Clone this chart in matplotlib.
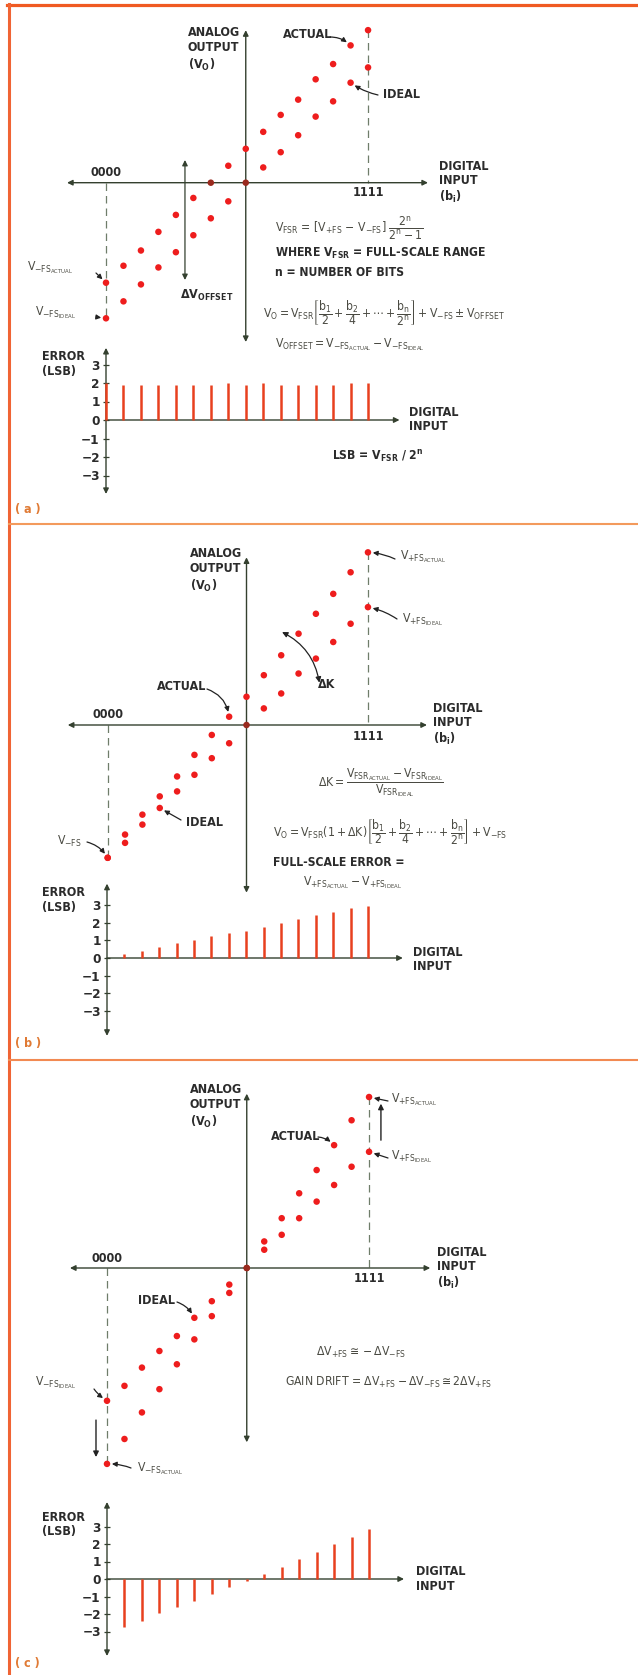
import matplotlib
matplotlib.use('Agg')
import matplotlib.pyplot as plt
import matplotlib.transforms as mtransforms
from matplotlib.lines import Line2D
from matplotlib import font_manager

W, H = 638, 1675

codes = [0, 1, 2, 3, 4, 5, 6, 7, 8, 9, 10, 11, 12, 13, 14, 15]

# (a) offset error
ideal_a = [-8.0, -7.0, -6.0, -5.0, -4.1, -3.1, -2.1, -1.1, 0.0, 0.9, 1.8, 2.8, 3.9, 4.8, 5.9, 6.8]
actual_a = [-5.9, -4.9, -4.0, -2.9, -1.9, -0.9, 0.0, 1.0, 2.0, 3.0, 4.0, 4.9, 6.1, 7.0, 8.1, 9.0]
error_a = [2.0, 1.9, 1.9, 1.9, 1.9, 1.9, 1.9, 2.0, 1.9, 2.0, 1.9, 1.9, 1.9, 1.9, 2.0, 2.0]

# (b) gain error
ideal_b = [-8.0, -7.1, -6.0, -5.0, -4.0, -3.0, -2.0, -1.1, 0.0, 1.0, 1.9, 3.1, 4.0, 5.0, 6.1, 7.1]
actual_b = [-8.0, -6.6, -5.4, -4.3, -3.1, -1.8, -0.6, 0.5, 1.7, 3.0, 4.2, 5.5, 6.7, 7.9, 9.2, 10.4]
error_b = [0.0, 0.24, 0.41, 0.64, 0.84, 1.03, 1.22, 1.41, 1.54, 1.74, 2.0, 2.2, 2.44, 2.6, 2.8, 2.96]

# (c) gain drift
ideal_c = [-8.0, -7.1, -6.0, -5.0, -4.1, -3.0, -2.0, -1.0, 0.0, 1.1, 2.0, 3.0, 4.0, 5.0, 6.1, 7.0]
actual_c = [-11.8, -10.3, -8.7, -7.3, -5.8, -4.3, -2.9, -1.5, 0.0, 1.6, 3.0, 4.5, 5.9, 7.4, 8.9, 10.3]
error_c = [0.0, -2.76, -2.4, -1.95, -1.6, -1.25, -0.87, -0.46, -0.1, 0.3, 0.7, 1.13, 1.57, 2.0, 2.38, 2.84]

err_ticks = [-3, -2, -1, 0, 1, 2, 3]

# condensed face if there is one
fl = font_manager.fontManager.ttflist
if any(f.name == 'DejaVu Sans' and f.stretch == 'condensed' for f in fl):
    plt.rcParams['font.family'] = ['DejaVu Sans']
    plt.rcParams['font.stretch'] = 'condensed'
    FS = 9.0
elif any(f.name == 'Liberation Sans Narrow' for f in fl):
    plt.rcParams['font.family'] = ['Liberation Sans Narrow', 'DejaVu Sans']
    FS = 9.5
else:
    plt.rcParams['font.family'] = ['Liberation Sans', 'DejaVu Sans']
    FS = 8.3
plt.rcParams['mathtext.default'] = 'regular'
plt.rcParams['mathtext.fontset'] = 'dejavusans'

RED = '#ee1d1d'
DARKDOT = '#9a2a1e'
BAR = '#e8401e'
AXC = '#34402f'
TXT = '#2b2b2b'
FTXT = '#4a4a42'
DASH = '#6f7d6a'
TAG = '#e07a34'

fig = plt.figure(figsize=(W / 100, H / 100), dpi=100)
fig.patch.set_facecolor('white')
PX = mtransforms.Affine2D().scale(1 / W, -1 / H).translate(0, 1) + fig.transFigure

# panel frames
fig.add_artist(Line2D([7, W], [5, 5], transform=PX, color='#f05a22', lw=2.3))
fig.add_artist(Line2D([8.5, 8.5], [4, H], transform=PX, color='#f06434', lw=2.2))
fig.add_artist(Line2D([8.5, W], [524, 524], transform=PX, color='#f39a5c', lw=1.5))
fig.add_artist(Line2D([8.5, W], [1060, 1060], transform=PX, color='#f28a52', lw=1.5))


def make_ax(x0, y0, sx, sy, top, bottom):
    ax = fig.add_axes([0, 1 - bottom / H, 1, (bottom - top) / H])
    ax.set_xlim(-x0 / sx, (W - x0) / sx)
    ax.set_ylim((y0 - bottom) / sy, (y0 - top) / sy)
    ax.patch.set_visible(False)
    for s in ax.spines.values():
        s.set_visible(False)
    ax.set_xticks([])
    ax.set_yticks([])
    return ax


def arrow(ax, start, end, style='-|>', rad=0.0, lw=1.0, color=AXC, ms=8, sa=0, sb=0, tc='data'):
    ax.annotate('', xy=end, xytext=start, textcoords=tc,
                arrowprops=dict(arrowstyle=style, color=color, lw=lw, mutation_scale=ms,
                                shrinkA=sa, shrinkB=sb,
                                connectionstyle='arc3,rad=%s' % rad))


def pointer(ax, start_px, dot, rad=0.0):
    arrow(ax, start_px, dot, style='-|>', rad=rad, lw=0.9, color='#222222', ms=7, sb=3.5, tc=PX)


def txt(s, x, y, size=None, color=TXT, ha='left', va='center', weight='bold', **kw):
    fig.text(x, y, s, transform=PX, fontsize=size or FS, color=color, ha=ha, va=va,
             fontweight=weight, **kw)


def ftxt(s, x, y, color=FTXT, weight='normal'):
    txt(s, x, y, size=FS - 0.3, color=color, weight=weight)


def transfer(ax, ideal, actual, xr, yr, full_from, full_to):
    arrow(ax, (xr[0], 0), (xr[1], 0), style='<|-|>')
    arrow(ax, (codes[8], yr[0]), (codes[8], yr[1]), style='<|-|>')
    ax.plot([codes[0], codes[0]], [0, full_from], ls=(0, (6, 4)), color=DASH, lw=0.9)
    ax.plot([codes[15], codes[15]], [full_to, 0], ls=(0, (6, 4)), color=DASH, lw=0.9)
    for series in (ideal, actual):
        cols = [DARKDOT if abs(v) < 0.05 else RED for v in series]
        ax.scatter(codes, series, s=22, c=cols, edgecolors='none', zorder=5)


def error_plot(ax, err, yr, xmax):
    arrow(ax, (codes[0], yr[0]), (codes[0], yr[1]), style='<|-|>')
    arrow(ax, (codes[0], 0), (xmax, 0), style='-|>')
    ax.vlines(codes, 0, err, color=BAR, lw=1.8, zorder=3)
    ax.spines['left'].set_position(('data', 0))
    ax.set_yticks(err_ticks)
    ax.tick_params(axis='y', direction='inout', length=5, width=0.9, color=AXC,
                   labelsize=FS + 0.7, labelcolor=TXT, pad=2.0)
    for lab in ax.get_yticklabels():
        lab.set_fontweight('bold')


def axis_labels(top_vo, left_vo, x0000, y0000, x1111, y1111, left_di, top_di):
    txt('ANALOG\nOUTPUT\n(V$_O$)', left_vo, top_vo, va='top', linespacing=1.2)
    txt('0000', x0000, y0000, ha='center')
    txt('1111', x1111, y1111, ha='center')
    txt('DIGITAL\nINPUT\n(b$_i$)', left_di, top_di, va='top', linespacing=1.15)


FRAC_SUM = r'\left[\dfrac{b_1}{2}+\dfrac{b_2}{4}+\cdots+\dfrac{b_n}{2^n}\right]'

# ---------------- (a) ----------------
ax = make_ax(106, 182.7, 17.47, 16.95, 10, 350)
transfer(ax, ideal_a, actual_a, (-2.23, 18.43), (-9.4, 9.0), ideal_a[0], actual_a[15])
arrow(ax, (4.52, -5.74), (4.52, 1.34), style='<|-|>', lw=0.9)
axis_labels(26, 188, 106, 173, 368, 193, 439, 160)
txt('ACTUAL', 283, 35)
pointer(ax, (330, 37), (codes[14], actual_a[14]), rad=-0.2)
txt('IDEAL', 383, 95)
pointer(ax, (378, 95), (codes[14], ideal_a[14]), rad=-0.1)
ftxt('V$_{-FS_{ACTUAL}}$', 27, 268)
pointer(ax, (96, 273), (codes[0], actual_a[0]))
ftxt('V$_{-FS_{IDEAL}}$', 35, 313)
pointer(ax, (96, 317), (codes[0], ideal_a[0]))
txt('ΔV$_{OFFSET}$', 180, 295)
ftxt(r'V$_{FSR}$ = [V$_{+FS}$ − V$_{-FS}$] $\dfrac{2^n}{2^n-1}$', 275, 228)
txt('WHERE V$_{FSR}$ = FULL-SCALE RANGE', 275, 253, size=FS - 0.3)
txt('n = NUMBER OF BITS', 275, 272, size=FS - 0.3)
ftxt(r'$V_O = V_{FSR}' + FRAC_SUM + r' + V_{-FS} \pm V_{OFFSET}$', 263, 313)
ftxt(r'$V_{OFFSET} = V_{-FS_{ACTUAL}} - V_{-FS_{IDEAL}}$', 275, 345)

ax = make_ax(106, 420, 17.47, 18.5, 340, 505)
error_plot(ax, error_a, (-4.0, 3.9), 16.8)
txt('ERROR\n(LSB)', 42, 350, va='top', linespacing=1.15)
txt('DIGITAL\nINPUT', 409, 406, va='top', linespacing=1.15)
txt('LSB = V$_{FSR}$ / 2$^n$', 332, 457, size=FS - 0.3)
txt('( a )', 15, 509, color=TAG, size=FS)

# ---------------- (b) ----------------
ax = make_ax(107.7, 725, 17.35, 16.6, 540, 900)
transfer(ax, ideal_b, actual_b, (-2.3, 18.4), (-10.1, 10.1), actual_b[0], actual_b[15])
axis_labels(547, 190, 108, 715, 368, 737, 433, 702)
ftxt('V$_{+FS_{ACTUAL}}$', 400, 557)
pointer(ax, (395, 559), (codes[15], actual_b[15]), rad=0.1)
ftxt('V$_{+FS_{IDEAL}}$', 402, 620)
pointer(ax, (397, 619), (codes[15], ideal_b[15]), rad=0.1)
arrow(ax, (10.05, 5.6), (12.2, 2.55), style='<|-|>', rad=-0.25, lw=0.9, color='#222222')
txt('ΔK', 318, 685)
txt('ACTUAL', 157, 687)
pointer(ax, (207, 689), (codes[7], actual_b[7]), rad=-0.3)
txt('IDEAL', 186, 822)
pointer(ax, (181, 820), (codes[3], ideal_b[3]))
ftxt('V$_{-FS}$', 57, 841)
pointer(ax, (87, 842), (codes[0], actual_b[0]), rad=-0.2)
ftxt(r'$\Delta K = \dfrac{V_{FSR_{ACTUAL}} - V_{FSR_{IDEAL}}}{V_{FSR_{IDEAL}}}$', 318, 783)
ftxt(r'$V_O = V_{FSR}(1+\Delta K)' + FRAC_SUM + r'+V_{-FS}$', 273, 832)
txt('FULL-SCALE ERROR =', 273, 863, size=FS - 0.3)
ftxt(r'$V_{+FS_{ACTUAL}} - V_{+FS_{IDEAL}}$', 303, 883)

ax = make_ax(107, 958, 17.4, 17.7, 875, 1045)
error_plot(ax, error_b, (-4.4, 4.2), 17.0)
txt('ERROR\n(LSB)', 42, 886, va='top', linespacing=1.15)
txt('DIGITAL\nINPUT', 413, 946, va='top', linespacing=1.15)
txt('( b )', 15, 1043, color=TAG, size=FS)

# ---------------- (c) ----------------
ax = make_ax(107, 1268, 17.47, 16.6, 1075, 1470)
transfer(ax, ideal_c, actual_c, (-2.12, 18.5), (-10.5, 10.5), actual_c[0], actual_c[15])
axis_labels(1083, 190, 107, 1258, 369, 1278, 437, 1246)
ftxt('V$_{+FS_{ACTUAL}}$', 391, 1100)
pointer(ax, (388, 1101), (codes[15], actual_c[15]))
ftxt('V$_{+FS_{IDEAL}}$', 391, 1157)
pointer(ax, (388, 1158), (codes[15], ideal_c[15]))
arrow(ax, (15.68, 7.7), (15.68, 9.9), style='-|>', lw=1.0, color='#222222')
txt('ACTUAL', 271, 1137)
pointer(ax, (318, 1137), (codes[13], actual_c[13]), rad=-0.2)
txt('IDEAL', 138, 1301)
pointer(ax, (177, 1302), (codes[5], ideal_c[5]), rad=-0.2)
ftxt(r'$\Delta V_{+FS} \cong -\Delta V_{-FS}$', 316, 1352)
ftxt(r'GAIN DRIFT = $\Delta V_{+FS} - \Delta V_{-FS} \cong 2\Delta V_{+FS}$', 285, 1382)
ftxt('V$_{-FS_{IDEAL}}$', 35, 1383)
pointer(ax, (94, 1389), (codes[0], ideal_c[0]), rad=0.1)
arrow(ax, (-0.63, -9.16), (-0.63, -11.39), style='-|>', lw=1.0, color='#222222')
ftxt('V$_{-FS_{ACTUAL}}$', 137, 1469)
pointer(ax, (131, 1468), (codes[0], actual_c[0]), rad=0.1)

ax = make_ax(107, 1579, 17.47, 17.5, 1495, 1665)
error_plot(ax, error_c, (-4.4, 4.4), 17.0)
txt('ERROR\n(LSB)', 42, 1511, va='top', linespacing=1.15)
txt('DIGITAL\nINPUT', 416, 1565, va='top', linespacing=1.15)
txt('( c )', 15, 1663, color=TAG, size=FS)

fig.savefig('out.png', dpi=100)
